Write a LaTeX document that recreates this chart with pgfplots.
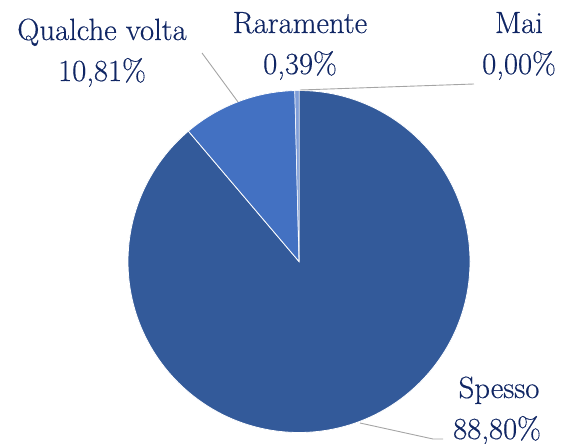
\documentclass[border=0pt]{standalone}
\usepackage{pgfplots}
\usepackage{pgfplotstable}
\pgfplotsset{compat=1.18}
\usepackage{fontspec}
\newfontfamily\labfont[FakeBold=0.4]{Latin Modern Roman}
\definecolor{cSpesso}{RGB}{51,90,154}
\definecolor{cQualche}{RGB}{67,113,194}
\definecolor{cRaramente}{RGB}{128,158,216}
\definecolor{labc}{RGB}{16,38,100}
\definecolor{leadc}{RGB}{165,165,165}
\pgfplotstableread{
label value
Spesso 88.80
Qualche 10.81
Raramente 0.39
Mai 0.00
}\piedata
\begin{document}
\begin{tikzpicture}
\pgfplotstablegetelem{0}{value}\of\piedata \pgfmathsetmacro{\va}{\pgfplotsretval}
\pgfplotstablegetelem{1}{value}\of\piedata \pgfmathsetmacro{\vb}{\pgfplotsretval}
\pgfplotstablegetelem{2}{value}\of\piedata \pgfmathsetmacro{\vc}{\pgfplotsretval}
\pgfmathsetmacro{\aA}{90}
\pgfmathsetmacro{\aB}{\aA-3.6*\va}
\pgfmathsetmacro{\aC}{\aB-3.6*\vb}
\pgfmathsetmacro{\aD}{\aC-3.6*\vc}
\begin{axis}[
  scale only axis, width=568bp, height=444bp,
  xmin=0, xmax=568, ymin=0, ymax=444,
  hide axis, clip=false,
]
\def\cx{299}\def\cy{182.5}\def\rr{171bp}
\fill[cSpesso, draw=white, line width=0.8bp] (axis cs:\cx,\cy) -- ([shift={(\aA:\rr)}]axis cs:\cx,\cy) arc[start angle=\aA, end angle=\aB, radius=\rr] -- cycle;
\fill[cQualche, draw=white, line width=0.8bp] (axis cs:\cx,\cy) -- ([shift={(\aB:\rr)}]axis cs:\cx,\cy) arc[start angle=\aB, end angle=\aC, radius=\rr] -- cycle;
\fill[cRaramente, draw=white, line width=0.5bp] (axis cs:\cx,\cy) -- ([shift={(\aC:\rr)}]axis cs:\cx,\cy) arc[start angle=\aC, end angle=\aD, radius=\rr] -- cycle;
% leader lines
\draw[leadc, line width=0.9bp] (axis cs:238,342) -- (axis cs:202,391);
\draw[leadc, line width=0.9bp] (axis cs:300,354) -- (axis cs:474,360);
\draw[leadc, line width=0.9bp] (axis cs:360,21) -- (axis cs:433,5) -- (axis cs:443,5);
% labels
\begin{scope}[every node/.style={font=\labfont\fontsize{30.8}{36}\selectfont, text=labc, anchor=base, inner sep=0pt}]
\node at (axis cs:102,404) {Qualche volta};
\node at (axis cs:102,363) {10,81\%};
\node at (axis cs:300,411) {Raramente};
\node at (axis cs:300,370) {0,39\%};
\node at (axis cs:519,411) {Mai};
\node at (axis cs:519,370) {0,00\%};
\node at (axis cs:499,46) {Spesso};
\node at (axis cs:497,5) {88,80\%};
\end{scope}
\end{axis}
\pgfresetboundingbox
\useasboundingbox (0,0) rectangle (568bp,444bp);
\end{tikzpicture}
\end{document}
